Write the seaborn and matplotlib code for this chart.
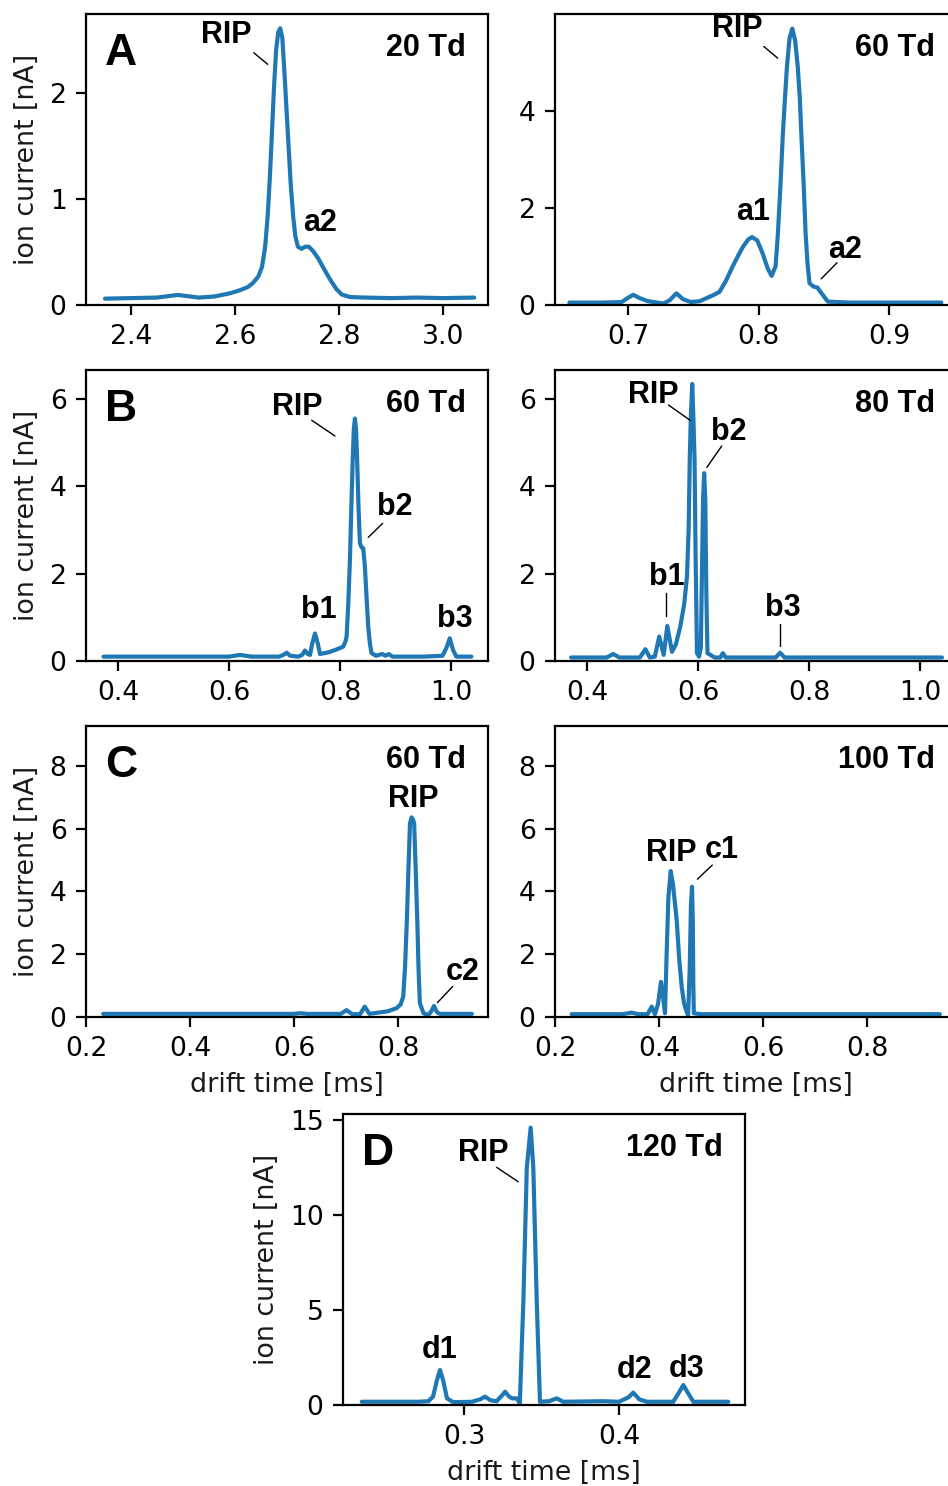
import numpy as np
import pandas as pd
import matplotlib
matplotlib.use("Agg")
import matplotlib.pyplot as plt
import seaborn as sns

# ---------------- data ----------------
a20_t = [2.350, 2.400, 2.450, 2.490, 2.530, 2.560, 2.590, 2.610, 2.625, 2.635, 2.645, 2.652,
         2.658, 2.663, 2.667, 2.671, 2.675, 2.679, 2.683, 2.687, 2.691, 2.695, 2.699, 2.703,
         2.707, 2.712, 2.716, 2.721, 2.728, 2.735, 2.742, 2.750, 2.760, 2.770, 2.783, 2.795,
         2.805, 2.821, 2.850, 2.900, 2.950, 3.000, 3.060]
a20_i = [0.06, 0.065, 0.07, 0.095, 0.07, 0.08, 0.11, 0.14, 0.17, 0.21, 0.27, 0.36,
         0.55, 0.85, 1.20, 1.62, 2.05, 2.40, 2.57, 2.61, 2.52, 2.20, 1.85, 1.50,
         1.15, 0.83, 0.65, 0.55, 0.53, 0.55, 0.55, 0.51, 0.44, 0.35, 0.24, 0.15,
         0.10, 0.075, 0.07, 0.065, 0.07, 0.065, 0.07]

a60_t = [0.655, 0.680, 0.695, 0.700, 0.704, 0.709, 0.715, 0.727, 0.732, 0.737, 0.742, 0.748,
         0.755, 0.760, 0.765, 0.770, 0.775, 0.780, 0.784, 0.788, 0.792, 0.795, 0.799, 0.803,
         0.807, 0.810, 0.813, 0.8148, 0.8168, 0.8186, 0.8205, 0.8217, 0.8237, 0.8258, 0.8280,
         0.8300, 0.8315, 0.8327, 0.8345, 0.8360, 0.8375, 0.839, 0.842, 0.845, 0.848, 0.853,
         0.870, 0.900, 0.940]
a60_i = [0.05, 0.05, 0.06, 0.15, 0.21, 0.14, 0.08, 0.03, 0.10, 0.24, 0.12, 0.06,
         0.08, 0.14, 0.20, 0.27, 0.50, 0.79, 1.00, 1.20, 1.35, 1.40, 1.33, 1.07,
         0.75, 0.60, 0.80, 1.48, 2.50, 3.54, 4.40, 4.91, 5.50, 5.70, 5.45,
         4.91, 4.30, 3.54, 2.50, 1.48, 0.85, 0.45, 0.38, 0.36, 0.25, 0.07,
         0.05, 0.05, 0.05]

b60_t = [0.3735, 0.450, 0.550, 0.600, 0.620, 0.640, 0.690, 0.698, 0.704, 0.710, 0.725, 0.732,
         0.737, 0.742, 0.746, 0.750, 0.755, 0.760, 0.764, 0.780, 0.795, 0.806, 0.810, 0.812,
         0.815, 0.818, 0.8205, 0.823, 0.825, 0.827, 0.829, 0.831, 0.8335, 0.836, 0.839, 0.842,
         0.845, 0.848, 0.851, 0.854, 0.857, 0.865, 0.876, 0.882, 0.888, 0.895, 0.950, 0.985,
         0.992, 0.998, 1.004, 1.010, 1.037]
b60_i = [0.10, 0.10, 0.10, 0.10, 0.14, 0.10, 0.10, 0.14, 0.19, 0.12, 0.10, 0.14,
         0.24, 0.16, 0.14, 0.40, 0.63, 0.40, 0.16, 0.20, 0.27, 0.33, 0.45, 0.56,
         1.30, 2.31, 3.50, 4.60, 5.30, 5.55, 5.30, 4.60, 3.50, 2.70, 2.60, 2.58,
         2.16, 1.45, 0.78, 0.40, 0.18, 0.12, 0.16, 0.12, 0.16, 0.10, 0.10, 0.12,
         0.30, 0.52, 0.25, 0.10, 0.10]

b80_t = [0.371, 0.435, 0.447, 0.458, 0.495, 0.505, 0.513, 0.522, 0.530, 0.538, 0.5445, 0.553,
         0.560, 0.568, 0.575, 0.580, 0.583, 0.585, 0.587, 0.5895, 0.5915, 0.5937, 0.5955, 0.598,
         0.6018, 0.605, 0.607, 0.609, 0.611, 0.613, 0.615, 0.617, 0.630, 0.640, 0.6447, 0.650,
         0.740, 0.748, 0.756, 0.850, 0.950, 1.040]
b80_i = [0.08, 0.08, 0.16, 0.08, 0.08, 0.27, 0.08, 0.10, 0.56, 0.14, 0.80, 0.21,
         0.38, 0.79, 1.30, 1.93, 3.00, 4.60, 5.60, 6.34, 5.60, 4.60, 2.50, 0.18,
         0.10, 0.30, 2.00, 3.70, 4.30, 3.70, 1.50, 0.18, 0.08, 0.08, 0.18, 0.08,
         0.08, 0.19, 0.08, 0.08, 0.08, 0.08]

c60_t = [0.233, 0.400, 0.600, 0.612, 0.625, 0.690, 0.701, 0.712, 0.727, 0.736, 0.745, 0.753,
         0.780, 0.797, 0.805, 0.810, 0.8135, 0.817, 0.820, 0.823, 0.826, 0.8285, 0.831, 0.834,
         0.837, 0.8395, 0.842, 0.849, 0.858, 0.864, 0.869, 0.875, 0.881, 0.942]
c60_i = [0.10, 0.10, 0.10, 0.12, 0.10, 0.10, 0.22, 0.09, 0.09, 0.33, 0.10, 0.12,
         0.18, 0.28, 0.40, 0.65, 1.60, 3.09, 4.70, 6.17, 6.36, 6.30, 6.17, 4.70,
         3.09, 1.50, 0.44, 0.12, 0.06, 0.18, 0.35, 0.15, 0.10, 0.10]

c100_t = [0.232, 0.330, 0.3475, 0.360, 0.378, 0.386, 0.392, 0.398, 0.4038, 0.408, 0.4115, 0.4147,
          0.418, 0.4225, 0.427, 0.434, 0.439, 0.4436, 0.448, 0.453, 0.456, 0.459, 0.4615, 0.4635,
          0.465, 0.466, 0.467, 0.480, 0.600, 0.800, 0.940]
c100_i = [0.09, 0.09, 0.14, 0.09, 0.09, 0.33, 0.09, 0.40, 1.12, 0.60, 0.12, 2.03,
          3.80, 4.65, 4.20, 3.09, 1.80, 0.97, 0.45, 0.17, 0.05, 1.50, 3.60, 4.15,
          3.00, 1.00, 0.12, 0.09, 0.09, 0.09, 0.09]

d120_t = [0.234, 0.250, 0.270, 0.277, 0.280, 0.2825, 0.2845, 0.2865, 0.289, 0.293, 0.305, 0.3105,
          0.3135, 0.317, 0.321, 0.3245, 0.3265, 0.329, 0.331, 0.334, 0.336, 0.3383, 0.3405, 0.343,
          0.3447, 0.3469, 0.349, 0.355, 0.3598, 0.364, 0.390, 0.400, 0.406, 0.4092, 0.413, 0.418,
          0.435, 0.439, 0.4415, 0.444, 0.448, 0.4705]
d120_i = [0.17, 0.17, 0.17, 0.20, 0.44, 1.30, 1.84, 1.30, 0.35, 0.15, 0.17, 0.30,
          0.44, 0.25, 0.20, 0.50, 0.70, 0.45, 0.35, 0.35, 0.09, 5.50, 12.50, 14.60,
          12.50, 5.50, 0.17, 0.20, 0.35, 0.17, 0.20, 0.17, 0.40, 0.65, 0.30, 0.17,
          0.17, 0.70, 1.05, 0.70, 0.17, 0.17]

field_labels = ["20 Td", "60 Td", "60 Td", "80 Td", "60 Td", "100 Td", "120 Td"]
panel_letters = ["A", "", "B", "", "C", "", "D"]
x_tick_sets = [[2.4, 2.6, 2.8, 3.0], [0.7, 0.8, 0.9], [0.4, 0.6, 0.8, 1.0], [0.4, 0.6, 0.8, 1.0],
               [0.2, 0.4, 0.6, 0.8], [0.2, 0.4, 0.6, 0.8], [0.3, 0.4]]
y_tick_sets = [[0, 1, 2], [0, 2, 4], [0, 2, 4, 6], [0, 2, 4, 6], [0, 2, 4, 6, 8], [0, 2, 4, 6, 8],
               [0, 5, 10, 15]]

# ---------------- style ----------------
sns.set_style("ticks", {"axes.edgecolor": "black", "xtick.color": "black", "ytick.color": "black",
                        "text.color": "#1a1a1a", "axes.labelcolor": "#1a1a1a"})
plt.rcParams["font.family"] = ["DejaVu Sans"]
plt.rcParams.update({"font.size": 9.6, "xtick.labelsize": 9.6, "ytick.labelsize": 9.6,
                     "axes.labelsize": 9.7, "axes.linewidth": 0.8, "axes.labelpad": 3.5,
                     "xtick.major.size": 3.5, "ytick.major.size": 3.5,
                     "xtick.major.width": 0.8, "ytick.major.width": 0.8})

W, H, DPI = 948, 1486, 200
fig = plt.figure(figsize=(W / DPI, H / DPI), dpi=DPI)


def rect(left, top, w=402, h=291):
    return [left / W, 1 - (top + h) / H, w / W, h / H]


panels = [
    (a20_t, a20_i, rect(86, 14), (2.3135, 3.0865), (0, 2.745), True, False),
    (a60_t, a60_i, rect(555, 14), (0.644, 0.952), (0, 6.0), False, False),
    (b60_t, b60_i, rect(86, 370), (0.342, 1.067), (0, 6.66), True, False),
    (b80_t, b80_i, rect(555, 370), (0.342, 1.067), (0, 6.66), False, False),
    (c60_t, c60_i, rect(86, 726), (0.2, 0.973), (0, 9.27), True, True),
    (c100_t, c100_i, rect(555, 726), (0.2, 0.973), (0, 9.27), False, True),
    (d120_t, d120_i, rect(343, 1114), (0.2219, 0.4813), (0, 15.32), True, True),
]

bold = dict(family="Liberation Sans", weight="bold", color="black")
axes = []
for i, (xs, ys, r, xl, yl, ylab, xlab) in enumerate(panels):
    ax = fig.add_axes(r)
    df = pd.DataFrame({"drift": xs, "current": ys})
    sns.lineplot(data=df, x="drift", y="current", ax=ax, color="#1f77b4", linewidth=1.5,
                 sort=True, estimator=None)
    ax.set_xlim(*xl)
    ax.set_ylim(*yl)
    ax.set_xticks(x_tick_sets[i])
    ax.set_yticks(y_tick_sets[i])
    ax.set_ylabel("ion current [nA]" if ylab else "")
    ax.set_xlabel("drift time [ms]" if xlab else "")
    for s in ax.spines.values():
        s.set_visible(True)
    ax.text(0.945, 0.935, field_labels[i], transform=ax.transAxes, ha="right", va="top",
            fontsize=11, **bold)
    if panel_letters[i]:
        ax.text(0.048, 0.935, panel_letters[i], transform=ax.transAxes, ha="left", va="top",
                fontsize=16, **bold)
    axes.append(ax)


def lab(ax, s, x, y, size=11):
    ax.text(x, y, s, ha="center", va="center", fontsize=size, **bold)


def lab_line(ax, s, xt, yt, xs, ys, xe, ye, size=11):
    ax.text(xt, yt, s, ha="center", va="center", fontsize=size, **bold)
    ax.plot([xs, xe], [ys, ye], color="black", lw=0.5)


ax = axes[0]
lab_line(ax, "RIP", 2.583, 2.55, 2.636, 2.38, 2.663, 2.27)
lab(ax, "a2", 2.763, 0.77)

ax = axes[1]
lab_line(ax, "RIP", 0.7835, 5.7, 0.804, 5.33, 0.8146, 5.09)
lab(ax, "a1", 0.796, 1.92)
lab_line(ax, "a2", 0.866, 1.13, 0.860, 0.87, 0.848, 0.54)

ax = axes[2]
lab_line(ax, "RIP", 0.7225, 5.81, 0.749, 5.51, 0.791, 5.15)
lab_line(ax, "b2", 0.899, 3.53, 0.877, 3.15, 0.851, 2.83)
lab(ax, "b1", 0.761, 1.17)
lab(ax, "b3", 1.007, 0.95)

ax = axes[3]
lab_line(ax, "RIP", 0.5195, 6.09, 0.5465, 5.86, 0.5856, 5.51)
lab_line(ax, "b2", 0.656, 5.25, 0.6427, 4.92, 0.6157, 4.43)
lab_line(ax, "b1", 0.5436, 1.92, 0.5418, 1.55, 0.5418, 1.03)
lab_line(ax, "b3", 0.7526, 1.21, 0.748, 0.85, 0.748, 0.34)

ax = axes[4]
lab(ax, "RIP", 0.8294, 6.94)
lab_line(ax, "c2", 0.9244, 1.44, 0.905, 0.97, 0.8756, 0.455)

ax = axes[5]
lab(ax, "RIP", 0.4244, 5.21)
lab_line(ax, "c1", 0.5206, 5.32, 0.5025, 4.84, 0.4737, 4.39)

ax = axes[6]
lab_line(ax, "RIP", 0.3125, 13.28, 0.3211, 12.51, 0.335, 11.75)
lab(ax, "d1", 0.2845, 2.89)
lab(ax, "d2", 0.4103, 1.84)
lab(ax, "d3", 0.4437, 1.88)

fig.savefig("out.png", dpi=DPI)
